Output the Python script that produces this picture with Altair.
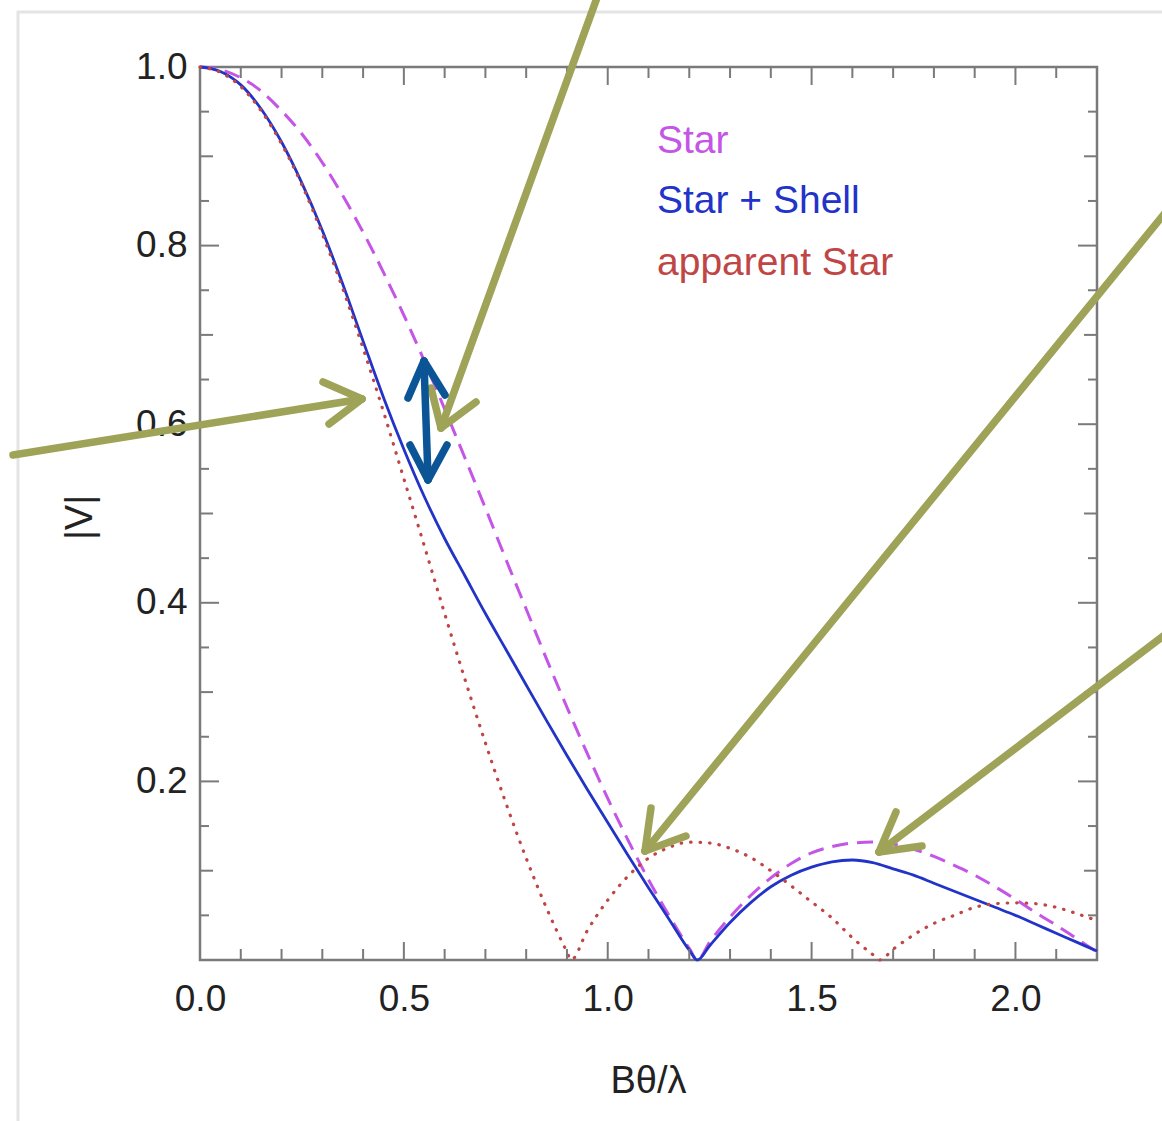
import altair as alt
import pandas as pd

# ---------------- data ----------------
series_names = ["Star", "Star + Shell", "apparent Star"]
series_colors = ["#c455e6", "#2233c8", "#c04545"]

star_x = [0.0, 0.05, 0.1, 0.15, 0.2, 0.25, 0.3, 0.35, 0.4, 0.45, 0.5, 0.55, 0.6,
          0.65, 0.7, 0.75, 0.8, 0.85, 0.9, 0.95, 1.0, 1.05, 1.1, 1.15, 1.2, 1.22,
          1.25, 1.3, 1.35, 1.4, 1.45, 1.5, 1.55, 1.6, 1.65, 1.7, 1.75, 1.8, 1.85,
          1.9, 1.95, 2.0, 2.05, 2.1, 2.15, 2.2]
star_v = [1.0, 0.997, 0.988, 0.973, 0.951, 0.925, 0.893, 0.856, 0.815, 0.770, 0.722,
          0.671, 0.617, 0.562, 0.506, 0.449, 0.393, 0.337, 0.283, 0.231, 0.181, 0.134,
          0.090, 0.050, 0.013, 0.0,
          0.020, 0.048, 0.072, 0.092, 0.108, 0.120, 0.127, 0.131, 0.132, 0.130, 0.124,
          0.116, 0.106, 0.095, 0.082, 0.068, 0.053, 0.039, 0.024, 0.009]

shell_x = [0.0, 0.05, 0.1, 0.15, 0.2, 0.25, 0.3, 0.35, 0.4, 0.45, 0.5, 0.55, 0.6,
           0.65, 0.7, 0.75, 0.8, 0.85, 0.9, 0.95, 1.0, 1.05, 1.1, 1.15, 1.2, 1.22,
           1.25, 1.3, 1.35, 1.4, 1.45, 1.5, 1.55, 1.6, 1.65, 1.7, 1.75, 1.8, 1.85,
           1.9, 1.95, 2.0, 2.05, 2.1, 2.15, 2.2]
shell_v = [1.0, 0.995, 0.980, 0.953, 0.916, 0.870, 0.817, 0.757, 0.693, 0.630, 0.572,
           0.519, 0.472, 0.430, 0.388, 0.348, 0.308, 0.268, 0.229, 0.191, 0.154, 0.117,
           0.081, 0.046, 0.011, 0.0,
           0.016, 0.042, 0.064, 0.082, 0.095, 0.104, 0.110, 0.112, 0.109, 0.102, 0.095,
           0.086, 0.077, 0.068, 0.059, 0.050, 0.040, 0.030, 0.020, 0.010]

app_x = [0.0, 0.05, 0.1, 0.15, 0.2, 0.25, 0.3, 0.35, 0.4, 0.45, 0.5, 0.55, 0.6,
         0.65, 0.7, 0.75, 0.8, 0.85, 0.9, 0.91,
         0.95, 1.0, 1.05, 1.1, 1.15, 1.2, 1.25, 1.3, 1.35, 1.4, 1.45, 1.5, 1.55, 1.6,
         1.65, 1.667,
         1.7, 1.75, 1.8, 1.85, 1.9, 1.95, 2.0, 2.05, 2.1, 2.15, 2.2]
app_v = [1.0, 0.994, 0.978, 0.951, 0.914, 0.868, 0.813, 0.752, 0.685, 0.614, 0.539,
         0.464, 0.388, 0.314, 0.243, 0.176, 0.114, 0.058, 0.009, 0.0,
         0.033, 0.067, 0.094, 0.114, 0.126, 0.132, 0.131, 0.125, 0.115, 0.100, 0.083,
         0.065, 0.047, 0.025, 0.006, 0.0,
         0.012, 0.028, 0.041, 0.050, 0.059, 0.063, 0.064, 0.063, 0.059, 0.052, 0.044]

x_tick_labels = [0.0, 0.5, 1.0, 1.5, 2.0]
y_tick_labels = [0.2, 0.4, 0.6, 0.8, 1.0]
x_major_ticks = [0.5, 1.0, 1.5, 2.0]
x_minor_ticks = [0.1, 0.2, 0.3, 0.4, 0.6, 0.7, 0.8, 0.9, 1.1, 1.2, 1.3, 1.4,
                 1.6, 1.7, 1.8, 1.9, 2.1]
y_major_ticks = [0.2, 0.4, 0.6, 0.8]
y_mid_ticks = [0.1, 0.3, 0.5, 0.7, 0.9]
y_minor_ticks = [0.05, 0.15, 0.25, 0.35, 0.45, 0.55, 0.65, 0.75, 0.85, 0.95]

# annotation arrows, in plot-area pixels (x0, y0, x1, y1)
green_segments = [
    (-187, 388, 162, 332), (162, 332, 123, 315), (162, 332, 129, 357),
    (398, -72, 241, 361), (241, 361, 276, 335), (241, 361, 231, 321),
    (969, 141, 445, 784), (445, 784, 486, 769), (445, 784, 451, 741),
    (970, 564, 679, 785), (679, 785, 722, 779), (679, 785, 696, 745),
]
navy_segments = [
    (224, 296, 228, 411), (224, 294, 208, 331), (224, 294, 245, 328),
    (228, 413, 210, 378), (228, 413, 247, 378),
]
card_segments = [(-182, -55, 962, -55), (-182, -55, -182, 1054)]

# ---------------- chart ----------------
W, H = 897, 893
X_DOMAIN = [0.0, 2.2]
Y_DOMAIN = [0.0, 1.0]
FONT = "Liberation Sans"
FRAME = "#7a7a7a"

xs = alt.Scale(domain=X_DOMAIN, nice=False, zero=False)
ys = alt.Scale(domain=Y_DOMAIN, nice=False, zero=False)

x_axis = alt.Axis(
    values=x_tick_labels, format=".1f", ticks=False, tickSize=0, domain=False,
    grid=False, labelPadding=21, labelFontSize=37, labelFont=FONT,
    labelColor="#222222", labelFlush=False, labelOverlap=False,
    title="Bθ/λ", titleFont=FONT, titleFontSize=38, titleFontWeight="normal",
    titleColor="#222222", titleX=448, titleY=121, titleBaseline="middle",
    titleAlign="center",
)
y_axis = alt.Axis(
    values=y_tick_labels, format=".1f", ticks=False, tickSize=0, domain=False,
    grid=False, labelPadding=13, labelFontSize=37, labelFont=FONT,
    labelColor="#222222", labelFlush=False, labelOverlap=False,
    title="|V|", titleFont=FONT, titleFontSize=38, titleFontWeight="normal",
    titleColor="#222222", titleX=-120, titleY=450, titleAngle=270,
    titleBaseline="middle", titleAlign="center",
)


def X(field):
    return alt.X(field, scale=xs, axis=x_axis, title="Bθ/λ")


def Y(field):
    return alt.Y(field, scale=ys, axis=y_axis, title="|V|")


def seg_df(segs):
    rows = []
    for (a, b, c, d) in segs:
        rows.append({
            "x": a / W * X_DOMAIN[1], "y": Y_DOMAIN[1] - b / H * Y_DOMAIN[1],
            "x2": c / W * X_DOMAIN[1], "y2": Y_DOMAIN[1] - d / H * Y_DOMAIN[1],
        })
    return pd.DataFrame(rows)


def seg_layer(segs, color, width):
    return alt.Chart(seg_df(segs)).mark_rule(
        color=color, strokeWidth=width, strokeCap="round"
    ).encode(x=X("x:Q"), y=Y("y:Q"), x2="x2:Q", y2="y2:Q")


def curve(xv, vv, name):
    return pd.DataFrame({"x": xv, "v": vv, "series": name})


star_df = curve(star_x, star_v, series_names[0])
shell_df = curve(shell_x, shell_v, series_names[1])
app_df = curve(app_x, app_v, series_names[2])

star_line = alt.Chart(star_df).mark_line(
    color=series_colors[0], strokeWidth=3, strokeDash=[16, 9], interpolate="monotone"
).encode(x=X("x:Q"), y=Y("v:Q"))
shell_line = alt.Chart(shell_df).mark_line(
    color=series_colors[1], strokeWidth=2.8, interpolate="monotone"
).encode(x=X("x:Q"), y=Y("v:Q"))
app_line = alt.Chart(app_df).mark_line(
    color=series_colors[2], strokeWidth=3.2, strokeDash=[0.5, 9],
    strokeCap="round", interpolate="monotone"
).encode(x=X("x:Q"), y=Y("v:Q"))


def xticks(vals, length):
    d = pd.DataFrame({"t": vals})
    bottom = alt.Chart(d).mark_rule(color=FRAME, strokeWidth=2).encode(
        x=X("t:Q"), y=alt.value(H), y2=alt.value(H - length))
    top = alt.Chart(d).mark_rule(color=FRAME, strokeWidth=2).encode(
        x=X("t:Q"), y=alt.value(0), y2=alt.value(length))
    return [bottom, top]


def yticks(vals, length):
    d = pd.DataFrame({"t": vals})
    left = alt.Chart(d).mark_rule(color=FRAME, strokeWidth=2).encode(
        y=Y("t:Q"), x=alt.value(0), x2=alt.value(length))
    right = alt.Chart(d).mark_rule(color=FRAME, strokeWidth=2).encode(
        y=Y("t:Q"), x=alt.value(W), x2=alt.value(W - length))
    return [left, right]


tick_layers = (xticks(x_major_ticks, 18) + xticks(x_minor_ticks, 11)
               + yticks(y_major_ticks, 19) + yticks(y_mid_ticks, 13)
               + yticks(y_minor_ticks, 9))

legend_layers = []
legend_y = [86, 146, 208]
for name, col, yy in zip(series_names, series_colors, legend_y):
    legend_layers.append(
        alt.Chart(pd.DataFrame({"t": [name]})).mark_text(
            align="left", baseline="alphabetic", font=FONT, fontSize=39, color=col
        ).encode(text="t:N", x=alt.value(457), y=alt.value(yy))
    )

layers = [star_line, seg_layer(card_segments, "#e4e4e4", 3), shell_line, app_line]
layers += tick_layers + legend_layers
layers += [seg_layer(green_segments, "#9ea358", 7.5), seg_layer(navy_segments, "#0b5597", 7.5)]

chart = alt.layer(*layers).properties(
    width=W, height=H,
    padding={"left": 200, "top": 67, "right": 65, "bottom": 161},
    autosize=alt.AutoSizeParams(type="none"),
    background="white",
).configure_view(stroke=FRAME, strokeWidth=2.5)

chart.save("out.html", embed_options={"renderer": "svg", "actions": False})
